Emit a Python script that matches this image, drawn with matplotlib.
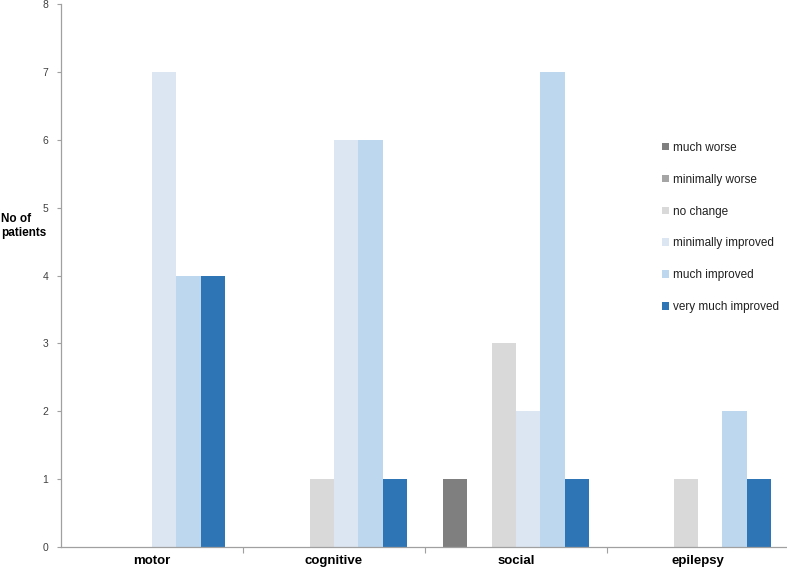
import matplotlib

matplotlib.use("Agg")
import matplotlib.pyplot as plt
import numpy as np
from matplotlib.patches import Patch

plt.rcParams["font.family"] = ["Liberation Sans", "DejaVu Sans"]

categories = ["motor", "cognitive", "social", "epilepsy"]
outcomes = [
    "much worse",
    "minimally worse",
    "no change",
    "minimally improved",
    "much improved",
    "very much improved",
]
counts = {
    "much worse": [0, 0, 1, 0],
    "minimally worse": [0, 0, 0, 0],
    "no change": [0, 1, 3, 1],
    "minimally improved": [7, 6, 2, 0],
    "much improved": [4, 6, 7, 2],
    "very much improved": [4, 1, 1, 1],
}
colors = ["#7f7f7f", "#a5a5a5", "#d9d9d9", "#dce6f2", "#bdd7ee", "#2e75b6"]

fig = plt.figure(figsize=(7.87, 5.68), dpi=100)
ax = fig.add_axes([61 / 787, 1 - 547 / 568, 728 / 787, 543 / 568])

x = np.arange(len(categories))
w = 1 / 7.5  # six bars plus a 150% gap per category
for k, (name, col) in enumerate(zip(outcomes, colors)):
    ax.bar(x + (k - 2.5) * w, counts[name], width=w, color=col,
           edgecolor="none")

ax.set_xlim(-0.5, len(categories) - 0.5)
ax.set_ylim(0, 8)
ax.set_yticks(range(0, 9))
ax.tick_params(axis="y", labelsize=7.5, colors="#404040", length=3,
               color="#a0a0a0", pad=6)
ax.set_xticks(np.arange(0.5, len(categories) - 0.5))
ax.set_xticklabels([])
ax.tick_params(axis="x", length=4, color="#a0a0a0")
for xi, name in zip(x, categories):
    ax.text(xi, -0.21, name, ha="center", va="center", fontsize=9.5,
            fontweight="bold", transform=ax.transData, clip_on=False)

for side in ("top", "right"):
    ax.spines[side].set_visible(False)
for side in ("left", "bottom"):
    ax.spines[side].set_color("#a0a0a0")
    ax.spines[side].set_linewidth(0.9)

fig.text(1 / 787, 1 - 226 / 568, "No of\npatients", fontsize=8.5,
         fontweight="bold", ha="left", va="center", linespacing=1.15)

handles = [Patch(facecolor=c, edgecolor="none") for c in colors]
leg = ax.legend(handles, outcomes, loc="upper left",
                bbox_to_anchor=(656 / 787, 1 - 136 / 568),
                bbox_transform=fig.transFigure, frameon=False, fontsize=8.5,
                handlelength=0.6, handleheight=0.6, handletextpad=0.3,
                labelspacing=1.68, borderpad=0)
for t in leg.get_texts():
    t.set_color("#202020")

fig.savefig("out.png", dpi=100)
